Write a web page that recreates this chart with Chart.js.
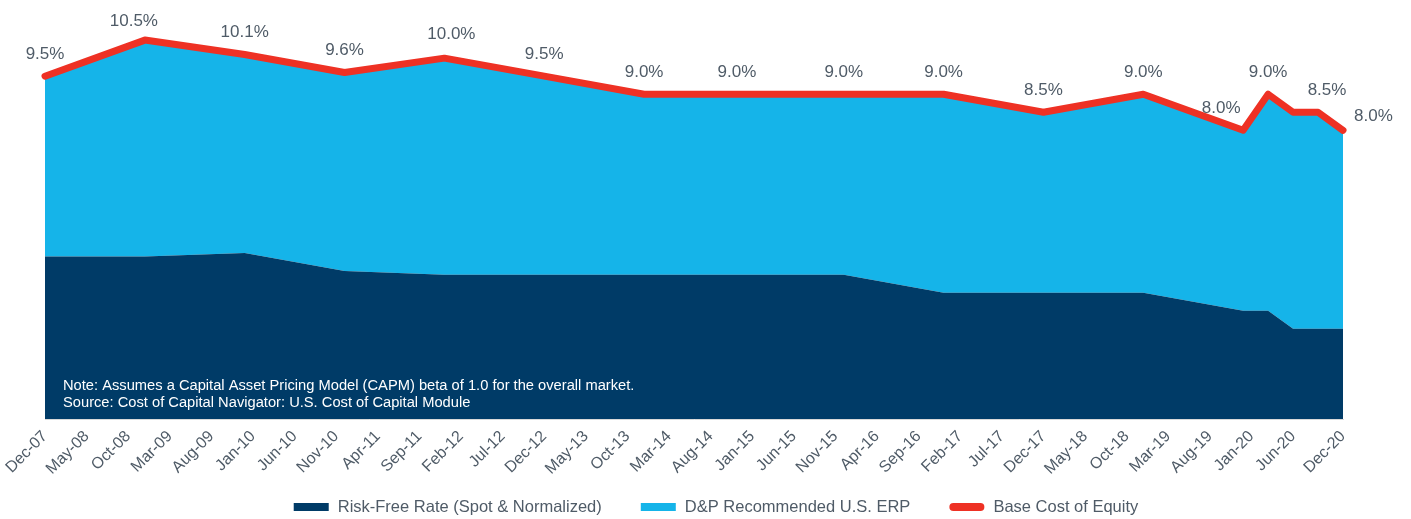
<!DOCTYPE html>
<html>
<head>
<meta charset="utf-8">
<script src="https://cdn.jsdelivr.net/npm/chart.js@4.4.1/dist/chart.umd.min.js"></script>
<style>
  html, body { margin: 0; padding: 0; background: #ffffff; }
  #wrap { width: 1411px; height: 519px; position: relative; }
</style>
</head>
<body>
<div id="wrap"><canvas id="c" width="1411" height="519"></canvas></div>
<script>
// ---- data ----
const pointDates = ['Dec-07','Dec-08','Dec-09','Dec-10','Dec-11','Dec-12','Dec-13','Dec-14','Dec-15','Dec-16','Dec-17','Dec-18','Dec-19','Mar-20','Jun-20','Sep-20','Dec-20'];
const riskFreeRate = [4.5, 4.5, 4.6, 4.1, 4.0, 4.0, 4.0, 4.0, 4.0, 3.5, 3.5, 3.5, 3.0, 3.0, 2.5, 2.5, 2.5];
const recommendedERP = [5.0, 6.0, 5.5, 5.5, 6.0, 5.5, 5.0, 5.0, 5.0, 5.5, 5.0, 5.5, 5.0, 6.0, 6.0, 6.0, 5.5];
const baseCostOfEquity = [9.5, 10.5, 10.1, 9.6, 10.0, 9.5, 9.0, 9.0, 9.0, 9.0, 8.5, 9.0, 8.0, 9.0, 8.5, 8.5, 8.0];
const tickLabels = ['Dec-07','May-08','Oct-08','Mar-09','Aug-09','Jan-10','Jun-10','Nov-10','Apr-11','Sep-11','Feb-12','Jul-12','Dec-12','May-13','Oct-13','Mar-14','Aug-14','Jan-15','Jun-15','Nov-15','Apr-16','Sep-16','Feb-17','Jul-17','Dec-17','May-18','Oct-18','Mar-19','Aug-19','Jan-20','Jun-20','Dec-20'];
const seriesNames = ['Risk-Free Rate (Spot & Normalized)', 'D&P Recommended U.S. ERP', 'Base Cost of Equity'];
const noteLines = ['Note: Assumes a Capital Asset Pricing Model (CAPM) beta of 1.0 for the overall market.', 'Source: Cost of Capital Navigator: U.S. Cost of Capital Module'];

// ---- helpers ----
const MONTHS = ['Jan','Feb','Mar','Apr','May','Jun','Jul','Aug','Sep','Oct','Nov','Dec'];
function monthIndex(label) {
  const [m, y] = label.split('-');
  return (2000 + parseInt(y, 10)) * 12 + MONTHS.indexOf(m);
}
const base = monthIndex('Dec-07');
const xs = pointDates.map(d => monthIndex(d) - base);
const tickValues = tickLabels.map(d => monthIndex(d) - base);
const toPts = arr => arr.map((v, i) => ({x: xs[i], y: v}));

const NAVY = '#003b67', BLUE = '#15b4e9', RED = '#ee3124', TEXT = '#4f5b67';
const FONT = "'Liberation Sans', Arial, sans-serif";

// value labels offsets (style only)
const labelOffsets = {1: [-11, -19], 4: [7, -24], 7: [-7, -22], 12: [-22, -22], 14: null, 15: [9, -22], 16: 'right'};

const valueLabelPlugin = {
  id: 'valueLabels',
  afterDatasetsDraw(chart) {
    const ctx = chart.ctx;
    const meta = chart.getDatasetMeta(2);
    ctx.save();
    ctx.font = '17px ' + FONT;
    ctx.fillStyle = TEXT;
    ctx.textBaseline = 'middle';
    meta.data.forEach((pt, i) => {
      const off = labelOffsets[i];
      if (off === null) return;
      const txt = baseCostOfEquity[i].toFixed(1) + '%';
      if (off === 'right') {
        ctx.textAlign = 'left';
        ctx.fillText(txt, pt.x + 11, pt.y - 14);
      } else {
        const [dx, dy] = off || [0, -22];
        ctx.textAlign = 'center';
        ctx.fillText(txt, pt.x + dx, pt.y + dy);
      }
    });
    // notes
    const a = chart.chartArea;
    ctx.font = '14.7px ' + FONT;
    ctx.fillStyle = '#ffffff';
    ctx.textAlign = 'left';
    ctx.fillText(noteLines[0], a.left + 18, 386);
    ctx.fillText(noteLines[1], a.left + 18, 403);
    ctx.restore();
  }
};

const legendPlugin = {
  id: 'customLegend',
  afterDraw(chart) {
    const ctx = chart.ctx;
    ctx.save();
    ctx.font = '16.5px ' + FONT;
    ctx.textBaseline = 'middle';
    ctx.textAlign = 'left';
    const boxW = 35, boxH = 8, gap = 9, itemGap = 39;
    const widths = chart.data.datasets.map(ds => boxW + gap + ctx.measureText(ds.label).width);
    const total = widths.reduce((s, w) => s + w, 0) + itemGap * (widths.length - 1);
    let x = 716 - total / 2;
    const y = 507;
    chart.data.datasets.forEach((ds, i) => {
      const color = ds.legendColor;
      ctx.fillStyle = color;
      if (ds.fill === false) {
        ctx.strokeStyle = color;
        ctx.lineWidth = boxH;
        ctx.lineCap = 'round';
        ctx.beginPath();
        ctx.moveTo(x + 4, y);
        ctx.lineTo(x + boxW - 4, y);
        ctx.stroke();
      } else {
        ctx.fillRect(x, y - boxH / 2, boxW, boxH);
      }
      ctx.fillStyle = TEXT;
      ctx.fillText(ds.label, x + boxW + gap, y);
      x += widths[i] + itemGap;
    });
    ctx.restore();
  }
};

new Chart(document.getElementById('c'), {
  type: 'line',
  data: {
    datasets: [
      { label: seriesNames[0], data: toPts(riskFreeRate), fill: 'origin', backgroundColor: NAVY, legendColor: NAVY, borderWidth: 0, pointRadius: 0, tension: 0, stack: 'rates' },
      { label: seriesNames[1], data: toPts(recommendedERP), fill: '-1', backgroundColor: BLUE, legendColor: BLUE, borderWidth: 0, pointRadius: 0, tension: 0, stack: 'rates' },
      { label: seriesNames[2], data: toPts(baseCostOfEquity), fill: false, borderColor: RED, legendColor: RED, borderWidth: 7, borderCapStyle: 'round', borderJoinStyle: 'round', pointRadius: 0, tension: 0, stack: 'coe', clip: 12 }
    ]
  },
  options: {
    responsive: false,
    animation: false,
    events: [],
    layout: { padding: { left: 45, right: 68, top: 4, bottom: 45 } },
    plugins: {
      legend: { display: false },
      tooltip: { enabled: false },
      filler: { drawTime: 'beforeDatasetsDraw', propagate: false }
    },
    scales: {
      x: {
        type: 'linear',
        min: 0,
        max: monthIndex('Dec-20') - base,
        grid: { display: false, drawTicks: true, tickLength: 8 },
        border: { display: true, color: '#d9d9d9', width: 1 },
        afterBuildTicks(scale) { scale.ticks = tickValues.map(v => ({ value: v })); },
        afterFit(scale) { scale.height = 55; },
        ticks: {
          autoSkip: false,
          minRotation: 45,
          maxRotation: 45,
          padding: 0,
          color: TEXT,
          font: { family: FONT, size: 16 },
          callback(value, index) { return tickLabels[index]; }
        }
      },
      y: {
        display: false,
        stacked: true,
        min: 0,
        max: 11.5
      }
    }
  },
  plugins: [valueLabelPlugin, legendPlugin]
});
</script>
</body>
</html>
